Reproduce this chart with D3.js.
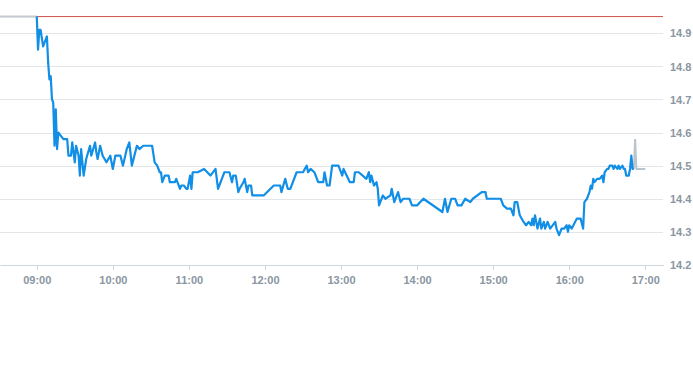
<!DOCTYPE html>
<html>
<head>
<meta charset="utf-8">
<script src="https://cdn.jsdelivr.net/npm/d3@7"></script>
<style>
  body { margin: 0; background: #fff; }
  svg { display: block; }
  .tick-label { font-family: "Liberation Sans", Arial, sans-serif; font-size: 11px; font-weight: bold; fill: #8a96a1; }
</style>
</head>
<body>
<div id="chart"></div>
<script>
const FRAME_WIDTH = 693;
const FRAME_HEIGHT = 365;
const PLOT = { left: 0, right: 663, top: 0, bottom: 265 };

// Data
const PREV_CLOSE = 14.95;
const Y_TICKS = [14.2, 14.3, 14.4, 14.5, 14.6, 14.7, 14.8, 14.9];
const X_TICKS = ["09:00", "10:00", "11:00", "12:00", "13:00", "14:00", "15:00", "16:00", "17:00"];

const PRE_TIMES = ["08:31", "09:00"];
const PRE_VALUES = [14.95, 14.95];

const TIMES = [
  "09:00","09:01","09:02","09:03","09:05","09:08","09:09","09:10","09:11","09:12",
  "09:13","09:14","09:15","09:16","09:17","09:19","09:21","09:24","09:25","09:27",
  "09:28","09:30","09:31","09:33","09:34","09:35","09:37","09:39","09:42","09:43",
  "09:46","09:47","09:48","09:50","09:52","09:55","09:58","10:00","10:02","10:06",
  "10:08","10:11","10:13","10:15","10:19","10:21","10:24","10:31","10:33","10:35",
  "10:37","10:38","10:39","10:41","10:44","10:45","10:47","10:49","10:50","10:53",
  "10:54","10:56","10:58","10:59","11:01","11:02","11:03","11:04","11:07","11:12",
  "11:17","11:21","11:23","11:24","11:26","11:28","11:32","11:34","11:35","11:37",
  "11:39","11:40","11:43","11:44","11:46","11:47","11:49","11:50","11:59","12:07",
  "12:12","12:13","12:16","12:18","12:20","12:25","12:30","12:33","12:34","12:36",
  "12:39","12:42","12:46","12:47","12:49","12:51","12:53","12:58","13:01","13:02",
  "13:07","13:10","13:11","13:14","13:20","13:22","13:23","13:24","13:26","13:28",
  "13:29","13:30","13:32","13:33","13:35","13:39","13:40","13:42","13:45","13:47",
  "13:49","13:54","13:56","14:00","14:05","14:20","14:22","14:24","14:27","14:30",
  "14:32","14:35","14:38","14:42","14:44","14:51","14:54","14:55","15:06","15:08",
  "15:11","15:14","15:16","15:17","15:19","15:21","15:24","15:26","15:28","15:30",
  "15:31","15:32","15:33","15:35","15:37","15:38","15:40","15:41","15:43","15:45",
  "15:49","15:50","15:52","15:54","15:56","15:58","15:59","16:00","16:02","16:06",
  "16:09","16:11","16:12","16:14","16:15","16:16","16:17","16:18","16:19","16:20",
  "16:22","16:24","16:26","16:27","16:28","16:30","16:31","16:32","16:34","16:35",
  "16:36","16:38","16:39","16:40","16:42","16:43","16:44","16:45","16:47","16:48",
  "16:49","16:50","16:51"
];
const VALUES = [
  14.95,14.85,14.91,14.91,14.86,14.89,14.81,14.76,14.77,14.70,
  14.69,14.56,14.67,14.55,14.60,14.59,14.58,14.58,14.53,14.53,
  14.57,14.51,14.56,14.53,14.47,14.55,14.47,14.52,14.56,14.53,
  14.57,14.54,14.52,14.56,14.53,14.51,14.53,14.49,14.53,14.53,
  14.50,14.55,14.57,14.50,14.56,14.55,14.56,14.56,14.51,14.50,
  14.48,14.48,14.45,14.47,14.47,14.45,14.45,14.45,14.46,14.43,
  14.44,14.44,14.43,14.43,14.47,14.43,14.48,14.48,14.48,14.49,
  14.47,14.49,14.43,14.44,14.46,14.48,14.48,14.45,14.47,14.47,
  14.42,14.43,14.45,14.46,14.42,14.44,14.44,14.41,14.41,14.44,
  14.44,14.42,14.46,14.43,14.43,14.48,14.48,14.50,14.48,14.49,
  14.48,14.45,14.45,14.48,14.44,14.44,14.50,14.50,14.47,14.49,
  14.45,14.45,14.48,14.48,14.46,14.48,14.45,14.47,14.44,14.45,
  14.43,14.38,14.40,14.41,14.40,14.41,14.43,14.39,14.42,14.39,
  14.40,14.40,14.38,14.38,14.40,14.36,14.40,14.36,14.40,14.40,
  14.38,14.38,14.40,14.39,14.40,14.42,14.42,14.40,14.40,14.38,
  14.37,14.37,14.35,14.39,14.39,14.35,14.33,14.32,14.33,14.32,
  14.34,14.32,14.35,14.31,14.34,14.31,14.33,14.31,14.33,14.31,
  14.33,14.31,14.29,14.31,14.31,14.32,14.30,14.32,14.31,14.34,
  14.34,14.31,14.39,14.40,14.41,14.42,14.44,14.43,14.46,14.45,
  14.46,14.46,14.47,14.45,14.48,14.49,14.49,14.50,14.50,14.49,
  14.50,14.49,14.50,14.49,14.50,14.49,14.49,14.47,14.47,14.49,
  14.53,14.49,14.49
];

const POST_TIMES = ["16:51", "16:52", "16:53", "17:00"];
const POST_VALUES = [14.49, 14.58, 14.49, 14.49];

const parseTime = d3.timeParse("%H:%M");
const zip = (times, values) => times.map((t, i) => ({ t: parseTime(t), v: values[i] }));

const FRAME = d3.select("#chart")
  .append("svg")
  .attr("width", FRAME_WIDTH)
  .attr("height", FRAME_HEIGHT);

const X_SCALE = d3.scaleTime()
  .domain([parseTime("08:31"), parseTime("17:14")])
  .range([PLOT.left, PLOT.right]);

const Y_SCALE = d3.scaleLinear()
  .domain([14.2, 15.0])
  .range([PLOT.bottom, PLOT.top]);

// gridlines + right labels
const Y_AXIS = d3.axisRight(Y_SCALE)
  .tickValues(Y_TICKS)
  .tickSize(PLOT.right - PLOT.left)
  .tickFormat(d3.format(".1f"));

const yG = FRAME.append("g")
  .attr("transform", `translate(${PLOT.left}, 0)`)
  .call(Y_AXIS);
yG.select(".domain").remove();
yG.selectAll(".tick line").attr("stroke", "#e3e6e8").attr("shape-rendering", "crispEdges");
yG.selectAll(".tick text")
  .attr("class", "tick-label")
  .attr("x", 670)
  .attr("dy", "0.35em");

// bottom axis
const X_AXIS = d3.axisBottom(X_SCALE)
  .tickValues(X_TICKS.map(parseTime))
  .tickSize(5)
  .tickSizeOuter(0)
  .tickFormat(d3.timeFormat("%H:%M"));

const xG = FRAME.append("g")
  .attr("transform", `translate(0, ${PLOT.bottom})`)
  .call(X_AXIS);
xG.select(".domain").attr("stroke", "#cfd6dc").attr("shape-rendering", "crispEdges");
xG.selectAll(".tick line").attr("stroke", "#cfd6dc").attr("shape-rendering", "crispEdges");
xG.selectAll(".tick text")
  .attr("class", "tick-label")
  .attr("y", 11);

// previous close line
FRAME.append("line")
  .attr("x1", PLOT.left)
  .attr("x2", PLOT.right)
  .attr("y1", Y_SCALE(PREV_CLOSE))
  .attr("y2", Y_SCALE(PREV_CLOSE))
  .attr("stroke", "#d2524b")
  .attr("stroke-width", 1);

const LINE = d3.line()
  .x((d) => X_SCALE(d.t))
  .y((d) => Y_SCALE(d.v));

FRAME.append("path")
  .datum(zip(PRE_TIMES, PRE_VALUES))
  .attr("d", LINE)
  .attr("fill", "none")
  .attr("stroke", "#c3cbd1")
  .attr("stroke-width", 2);

FRAME.append("path")
  .datum(zip(POST_TIMES, POST_VALUES))
  .attr("d", LINE)
  .attr("fill", "none")
  .attr("stroke", "#b9c4cc")
  .attr("stroke-width", 2);

FRAME.append("path")
  .datum(zip(TIMES, VALUES))
  .attr("d", LINE)
  .attr("fill", "none")
  .attr("stroke", "#118ee6")
  .attr("stroke-width", 2.2)
  .attr("stroke-linejoin", "round");
</script>
</body>
</html>
